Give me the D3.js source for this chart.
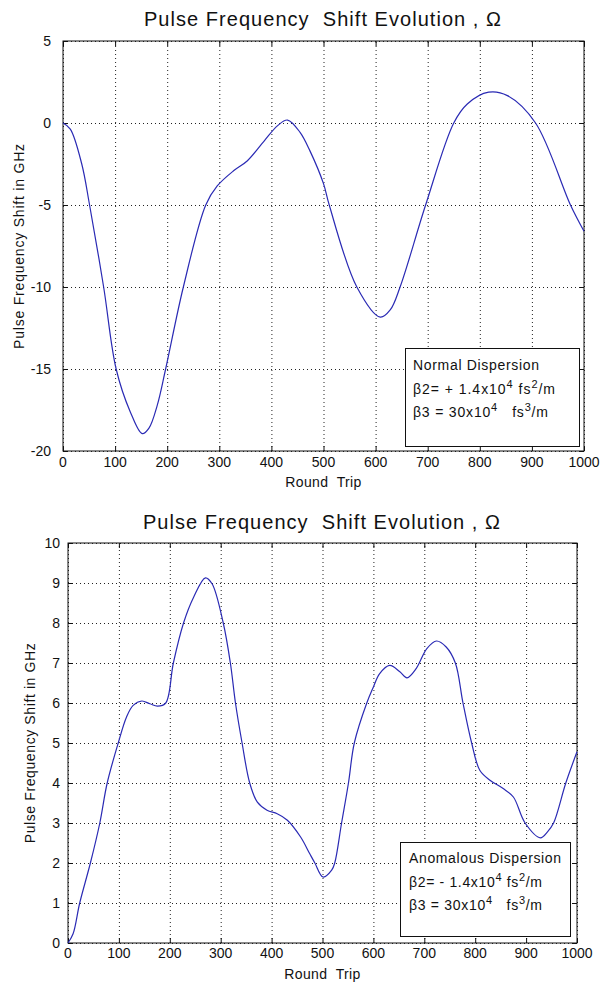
<!DOCTYPE html>
<html>
<head>
<meta charset="utf-8">
<script src="https://cdn.jsdelivr.net/npm/d3@7"></script>
<style>
  html, body { margin: 0; padding: 0; background: #fff; }
  svg { display: block; }
  text { font-family: "Liberation Sans", Arial, sans-serif; fill: #111; white-space: pre; }
</style>
</head>
<body>
<svg id="chart" width="601" height="987"></svg>
<script>
// ---------- data ----------
const titleText = "Pulse Frequency  Shift Evolution , \u03A9";
const xLabelText = "Round  Trip";
const yLabelText = "Pulse Frequency Shift in GHz";
const xTicks = [0, 100, 200, 300, 400, 500, 600, 700, 800, 900, 1000];
const normalYTicks = [-20, -15, -10, -5, 0, 5];
const anomalousYTicks = [0, 1, 2, 3, 4, 5, 6, 7, 8, 9, 10];

const normalRound = [0, 14, 36, 51, 78, 102, 129, 152, 165, 181, 197, 231, 274, 296, 328, 354, 386, 412, 431, 455, 474, 500, 511, 564, 609, 628, 647, 696, 750, 776, 817, 853, 907, 974, 1000];
const normalShift = [0, -0.37, -2.5, -5, -10, -15, -17.6, -18.94, -18.6, -17.2, -15, -10, -5, -3.84, -2.9, -2.3, -1.1, -0.16, 0.18, -0.57, -1.7, -3.7, -5, -10, -11.84, -11.4, -10, -5, 0, 1.16, 1.88, 1.67, 0, -5, -6.6];

const anomalousRound = [0, 10, 23, 44, 62.5, 77, 98.7, 115, 128, 145, 161, 176, 192, 207, 227, 247, 270, 283, 305, 319, 329, 342, 357, 372, 391, 411, 431, 457, 475, 485, 501, 518, 524, 537.5, 551, 562.5, 587, 600, 612, 632, 652, 666, 684, 705, 724, 743, 761, 776, 793, 809, 829, 855, 875, 898, 928, 942, 954, 978, 1000];
const anomalousShift = [0, 0.23, 1, 2, 3, 4, 5, 5.65, 5.94, 6.05, 5.98, 5.92, 6, 7, 8, 8.65, 9.13, 8.98, 8, 7, 6, 5, 4, 3.52, 3.32, 3.23, 3.07, 2.65, 2.23, 2, 1.65, 1.82, 2, 3, 4, 5, 6, 6.4, 6.73, 6.94, 6.78, 6.63, 6.86, 7.36, 7.55, 7.4, 7, 6, 5, 4.32, 4.07, 3.86, 3.65, 3, 2.63, 2.78, 3, 4, 4.78];

const normalLegend = ["Normal Dispersion", "\u03B22= + 1.4x10|4| fs|2|/m", "\u03B23 = 30x10|4|   fs|3|/m"];
const anomalousLegend = ["Anomalous Dispersion", "\u03B22= - 1.4x10|4| fs|2|/m", "\u03B23 = 30x10|4|   fs|3|/m"];

// ---------- drawing ----------
const svg = d3.select("#chart");
svg.append("rect").attr("width", 601).attr("height", 987).attr("fill", "#fff");

function fitWidth(sel, target) {
  const n = sel.text().length;
  const w = sel.node().getComputedTextLength();
  if (n > 1) sel.style("letter-spacing", ((target - w) / (n - 1)) + "px");
}

function addRichText(g, str, x, y, size) {
  // segments separated by | ; odd segments are superscripts
  const t = g.append("text").attr("x", x).attr("y", y).attr("font-size", size);
  str.split("|").forEach((s, i) => {
    if (i % 2 === 1) {
      t.append("tspan").attr("dy", -6).attr("font-size", size - 3).text(s);
    } else {
      const sp = t.append("tspan").text(s);
      if (i > 0) sp.attr("dy", 6);
    }
  });
  return t;
}

function panel(p) {
  const g = svg.append("g");
  const x = d3.scaleLinear().domain([0, 1000]).range([p.left, p.right]);
  const y = d3.scaleLinear().domain(p.yDomain).range([p.bottom, p.top]);
  const W = p.right - p.left, H = p.bottom - p.top;

  // grid
  g.append("g").attr("transform", `translate(0,${p.bottom})`)
    .call(d3.axisBottom(x).tickValues(xTicks).tickSize(-H).tickFormat(""))
    .call(a => a.select(".domain").remove())
    .call(a => a.selectAll("line").attr("stroke", "#222").attr("stroke-dasharray", "1,3").attr("stroke-width", 1));
  g.append("g").attr("transform", `translate(${p.left},0)`)
    .call(d3.axisLeft(y).tickValues(p.yTicks).tickSize(-W).tickFormat(""))
    .call(a => a.select(".domain").remove())
    .call(a => a.selectAll("line").attr("stroke", "#222").attr("stroke-dasharray", "1,3").attr("stroke-width", 1));

  // inward ticks on all four sides
  const tickStyle = a => { a.select(".domain").remove(); a.selectAll("line").attr("stroke", "#111"); };
  g.append("g").attr("transform", `translate(0,${p.bottom})`)
    .call(d3.axisBottom(x).tickValues(xTicks).tickSize(-5).tickFormat("")).call(tickStyle);
  g.append("g").attr("transform", `translate(0,${p.top})`)
    .call(d3.axisTop(x).tickValues(xTicks).tickSize(-5).tickFormat("")).call(tickStyle);
  g.append("g").attr("transform", `translate(${p.left},0)`)
    .call(d3.axisLeft(y).tickValues(p.yTicks).tickSize(-5).tickFormat("")).call(tickStyle);
  g.append("g").attr("transform", `translate(${p.right},0)`)
    .call(d3.axisRight(y).tickValues(p.yTicks).tickSize(-5).tickFormat("")).call(tickStyle);

  // tick labels
  xTicks.forEach(v => {
    g.append("text").attr("x", x(v)).attr("y", p.xLabelY)
      .attr("text-anchor", "middle").attr("font-size", 14).text(v);
  });
  p.yTicks.forEach(v => {
    g.append("text").attr("x", p.left - p.yLabelGap).attr("y", y(v) + 5)
      .attr("text-anchor", "end").attr("font-size", 14).text(v);
  });

  // border
  g.append("rect").attr("x", p.left).attr("y", p.top).attr("width", W).attr("height", H)
    .attr("fill", "none").attr("stroke", "#111").attr("stroke-width", 1);

  // curve
  const line = d3.line().x((d, i) => x(p.xs[i])).y(d => y(d)).curve(d3.curveCatmullRom.alpha(0.5));
  g.append("path").attr("d", line(p.ys)).attr("fill", "none")
    .attr("stroke", "#2a2ab4").attr("stroke-width", 1.2);

  // legend
  g.append("rect").attr("x", p.lg.x0).attr("y", p.lg.y0)
    .attr("width", p.lg.x1 - p.lg.x0).attr("height", p.lg.y1 - p.lg.y0)
    .attr("fill", "#fff").attr("stroke", "#111").attr("stroke-width", 1);
  p.legend.forEach((s, i) => {
    const t = addRichText(g, s, p.lg.tx, p.lg.base[i], 14);
    fitWidth(t, p.lg.widths[i]);
  });

  // title
  const tt = g.append("text").attr("x", p.titleX).attr("y", p.titleY)
    .attr("text-anchor", "middle").attr("font-size", 20).text(titleText);
  fitWidth(tt, p.titleW);

  // x label
  const xl = g.append("text").attr("x", (p.left + p.right) / 2).attr("y", p.xAxisTitleY)
    .attr("text-anchor", "middle").attr("font-size", 14).text(xLabelText);
  fitWidth(xl, 76);

  // y label
  const yl = g.append("text")
    .attr("transform", `translate(${p.yAxisTitleX},${(p.top + p.bottom) / 2}) rotate(-90)`)
    .attr("text-anchor", "middle").attr("font-size", 14).text(yLabelText);
  fitWidth(yl, p.yAxisTitleW);
}

panel({
  left: 63, right: 584, top: 41, bottom: 451,
  yDomain: [-20, 5], yTicks: normalYTicks,
  xs: normalRound, ys: normalShift,
  xLabelY: 467, yLabelGap: 12,
  titleX: 323, titleY: 26, titleW: 357,
  xAxisTitleY: 487, yAxisTitleX: 24, yAxisTitleW: 205,
  legend: normalLegend,
  lg: { x0: 405.5, y0: 348.5, x1: 579.5, y1: 446.5, tx: 413, base: [370, 394, 417], widths: [126, 142, 135] }
});

panel({
  left: 68, right: 577, top: 543, bottom: 943,
  yDomain: [0, 10], yTicks: anomalousYTicks,
  xs: anomalousRound, ys: anomalousShift,
  xLabelY: 958, yLabelGap: 8,
  titleX: 322, titleY: 529, titleW: 357,
  xAxisTitleY: 979, yAxisTitleX: 35, yAxisTitleW: 200,
  legend: anomalousLegend,
  lg: { x0: 400.5, y0: 842.5, x1: 570.5, y1: 936.5, tx: 409, base: [863, 887, 910], widths: [152, 133, 133] }
});
</script>
</body>
</html>
